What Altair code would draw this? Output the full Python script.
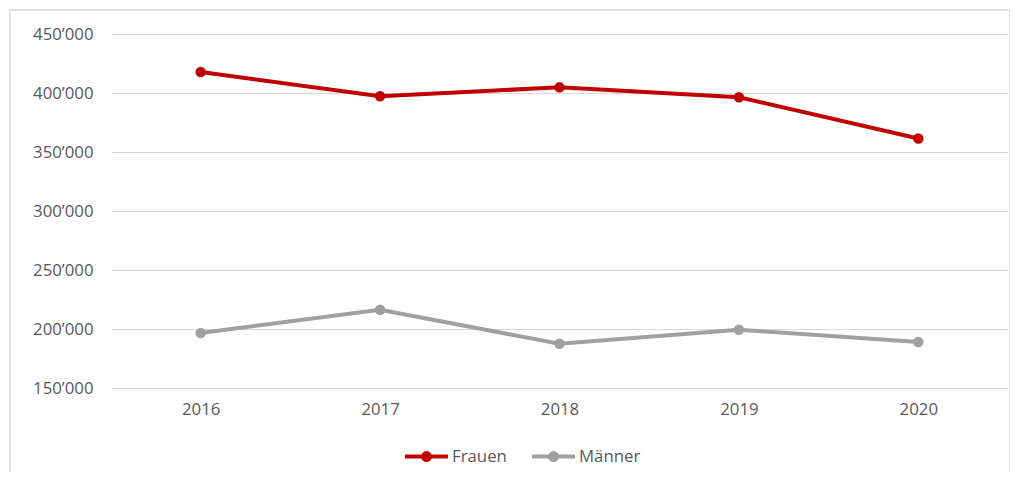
import altair as alt
import pandas as pd

years = ["2016", "2017", "2018", "2019", "2020"]
frauen = [417800, 397300, 404800, 396400, 361500]
maenner = [196600, 216300, 187500, 199400, 189000]
series = ["Frauen", "Männer"]
colors = ["#C00000", "#A0A0A0"]

rows = []
for y, v in zip(years, frauen):
    rows.append({"Jahr": y, "Wert": v, "Serie": "Frauen"})
for y, v in zip(years, maenner):
    rows.append({"Jahr": y, "Wert": v, "Serie": "Männer"})
df = pd.DataFrame(rows)

FONT = "Open Sans"
FS = 16.8
W, H = 897, 354

legend_symbol = "M-1,0H1M-0.16,0A0.16,0.16 0 1,1 0.16,0A0.16,0.16 0 1,1 -0.16,0"

x = alt.X("Jahr:N", sort=years, title=None,
          scale=alt.Scale(type="point", padding=0.5),
          axis=alt.Axis(labelAngle=0, grid=False, ticks=False, domain=False,
                        labelPadding=13, labelFontSize=FS, labelColor="#595959",
                        labelFont=FONT))
y = alt.Y("Wert:Q", title=None,
          scale=alt.Scale(domain=[150000, 450000], nice=False, zero=False),
          axis=alt.Axis(values=[150000, 200000, 250000, 300000, 350000, 400000, 450000],
                        labelExpr="replace(format(datum.value, ','), ',', '\u2019')",
                        grid=True, gridColor="#D9D9D9", gridWidth=1.2,
                        ticks=False, domain=False, labelPadding=18,
                        labelFontSize=FS, labelColor="#595959", labelFont=FONT))
color = alt.Color("Serie:N", sort=series,
                  scale=alt.Scale(domain=series, range=colors),
                  legend=alt.Legend(title=None, orient="none", direction="horizontal",
                                    legendX=292, legendY=399,
                                    symbolType=legend_symbol, symbolSize=1849,
                                    symbolStrokeWidth=4, symbolFillColor=None,
                                    labelFontSize=FS, labelColor="#595959",
                                    labelFont=FONT, labelOffset=2,
                                    columnPadding=17))

base = alt.Chart(df)
lines = base.mark_line(strokeWidth=4).encode(x=x, y=y, color=color)
points = base.mark_point(filled=True, size=110, opacity=1).encode(
    x=x, y=y, color=alt.Color("Serie:N", sort=series,
                              scale=alt.Scale(domain=series, range=colors),
                              legend=None))

border = alt.Chart(pd.DataFrame({"a": [0]})).mark_rect(
    fill=None, stroke="#D9D9D9", strokeWidth=1.5).encode(
    x=alt.value(-101), x2=alt.value(899), y=alt.value(-24), y2=alt.value(500))

chart = alt.layer(border, lines, points).properties(
    width=W, height=H,
    autosize=alt.AutoSizeParams(type="none"),
    padding={"left": 103, "top": 26, "right": 2, "bottom": 84},
).configure(background="white").configure_view(stroke=None)

chart.save("out.html", embed_options={"renderer": "svg", "actions": False})
